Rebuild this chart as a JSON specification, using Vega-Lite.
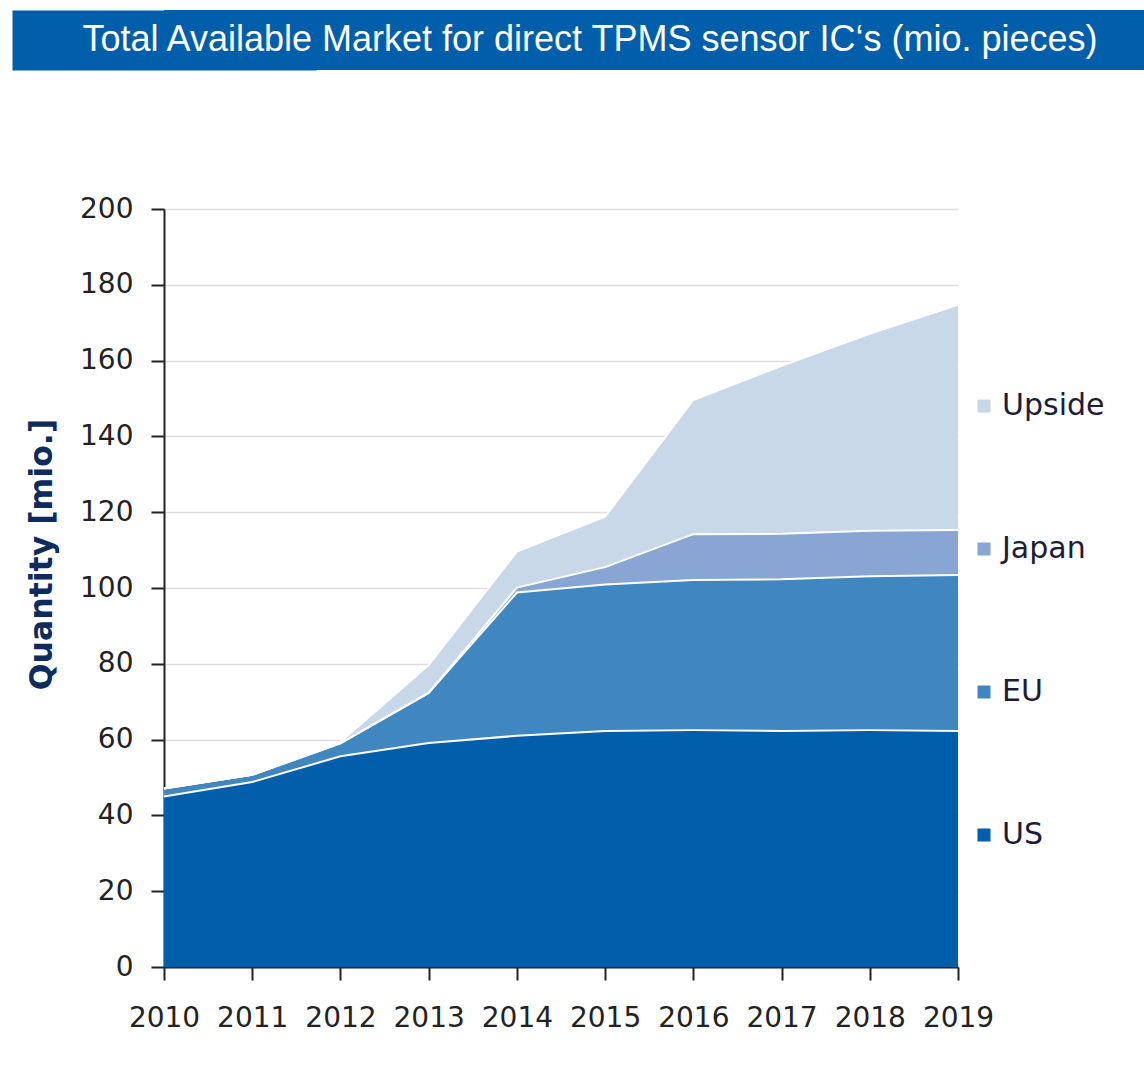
{
  "$schema": "https://vega.github.io/schema/vega-lite/v6.json",
  "padding": {"left": 12, "top": 10, "right": 0, "bottom": 0},
  "background": "white",
  "config": {"view": {"stroke": null}, "font": "DejaVu Sans"},
  "spacing": 125,
  "vconcat": [
    {
      "width": 980,
      "height": 60,
      "view": {"fill": "#005EAA", "stroke": null},
      "data": {"values": [{"t": "Total Available Market for direct TPMS sensor IC‘s (mio. pieces)", "k": "bar"}]},
      "mark": {"type": "text", "font": "Liberation Sans", "fontSize": 36, "color": "white", "dx": -64, "baseline": "middle", "align": "center"},
      "encoding": {
        "text": {"field": "t", "type": "nominal"},
        "y": {
          "field": "k", "type": "nominal",
          "scale": {"type": "point", "padding": 0.5},
          "axis": {"title": null, "labels": false, "ticks": false, "grid": false, "domain": true, "domainColor": "#005EAA", "domainWidth": 304, "domainCap": "butt", "minExtent": 152}
        }
      }
    },
    {
      "width": 794,
      "height": 758,
      "data": {
        "values": [
          {"year": 2010, "series": "US", "rank": 1, "value": 45.0},
          {"year": 2010, "series": "EU", "rank": 2, "value": 2.1},
          {"year": 2010, "series": "Japan", "rank": 3, "value": 0},
          {"year": 2010, "series": "Upside", "rank": 4, "value": 0},
          {"year": 2011, "series": "US", "rank": 1, "value": 48.8},
          {"year": 2011, "series": "EU", "rank": 2, "value": 1.9},
          {"year": 2011, "series": "Japan", "rank": 3, "value": 0},
          {"year": 2011, "series": "Upside", "rank": 4, "value": 0},
          {"year": 2012, "series": "US", "rank": 1, "value": 55.6},
          {"year": 2012, "series": "EU", "rank": 2, "value": 3.4},
          {"year": 2012, "series": "Japan", "rank": 3, "value": 0},
          {"year": 2012, "series": "Upside", "rank": 4, "value": 0.4},
          {"year": 2013, "series": "US", "rank": 1, "value": 59.1},
          {"year": 2013, "series": "EU", "rank": 2, "value": 13.2},
          {"year": 2013, "series": "Japan", "rank": 3, "value": 0},
          {"year": 2013, "series": "Upside", "rank": 4, "value": 7.4},
          {"year": 2014, "series": "US", "rank": 1, "value": 61.0},
          {"year": 2014, "series": "EU", "rank": 2, "value": 37.8},
          {"year": 2014, "series": "Japan", "rank": 3, "value": 1.3},
          {"year": 2014, "series": "Upside", "rank": 4, "value": 9.5},
          {"year": 2015, "series": "US", "rank": 1, "value": 62.3},
          {"year": 2015, "series": "EU", "rank": 2, "value": 38.6},
          {"year": 2015, "series": "Japan", "rank": 3, "value": 4.6},
          {"year": 2015, "series": "Upside", "rank": 4, "value": 13.3},
          {"year": 2016, "series": "US", "rank": 1, "value": 62.5},
          {"year": 2016, "series": "EU", "rank": 2, "value": 39.6},
          {"year": 2016, "series": "Japan", "rank": 3, "value": 12.1},
          {"year": 2016, "series": "Upside", "rank": 4, "value": 35.4},
          {"year": 2017, "series": "US", "rank": 1, "value": 62.3},
          {"year": 2017, "series": "EU", "rank": 2, "value": 40.0},
          {"year": 2017, "series": "Japan", "rank": 3, "value": 12.0},
          {"year": 2017, "series": "Upside", "rank": 4, "value": 44.3},
          {"year": 2018, "series": "US", "rank": 1, "value": 62.5},
          {"year": 2018, "series": "EU", "rank": 2, "value": 40.6},
          {"year": 2018, "series": "Japan", "rank": 3, "value": 12.0},
          {"year": 2018, "series": "Upside", "rank": 4, "value": 52.0},
          {"year": 2019, "series": "US", "rank": 1, "value": 62.3},
          {"year": 2019, "series": "EU", "rank": 2, "value": 41.1},
          {"year": 2019, "series": "Japan", "rank": 3, "value": 11.9},
          {"year": 2019, "series": "Upside", "rank": 4, "value": 59.4}
        ]
      },
      "transform": [
        {"stack": "value", "groupby": ["year"], "sort": [{"field": "rank", "order": "ascending"}], "as": ["y0", "y1"]}
      ],
      "layer": [
        {
          "mark": {"type": "area", "opacity": 1},
          "encoding": {
            "x": {
              "field": "year", "type": "ordinal",
              "scale": {"type": "point", "padding": 0},
              "title": null,
              "axis": {
                "labelAngle": 0, "labelFont": "DejaVu Sans", "labelFontSize": 28, "labelColor": "#222222",
                "labelPadding": 24, "tickSize": 13, "tickWidth": 2, "tickColor": "#222222",
                "domainColor": "#222222", "domainWidth": 2, "grid": false
              }
            },
            "y": {
              "field": "y1", "type": "quantitative",
              "scale": {"domain": [0, 200], "nice": false},
              "title": "Quantity [mio.]",
              "axis": {
                "values": [0, 20, 40, 60, 80, 100, 120, 140, 160, 180, 200],
                "labelFont": "DejaVu Sans", "labelFontSize": 28, "labelColor": "#222222",
                "labelPadding": 18, "tickSize": 13, "tickWidth": 2, "tickColor": "#222222",
                "domainColor": "#222222", "domainWidth": 2,
                "grid": true, "gridColor": "#dddddd", "gridWidth": 1.5,
                "titleFont": "DejaVu Sans", "titleFontSize": 31.5, "titleFontWeight": "bold",
                "titleColor": "#0d2b5c", "titlePadding": 21, "titleY": 345
              }
            },
            "y2": {"field": "y0"},
            "color": {
              "field": "series", "type": "nominal",
              "scale": {"domain": ["Upside", "Japan", "EU", "US"], "range": ["#C8D8E8", "#88A5D3", "#4087C1", "#005EAA"]},
              "legend": {
                "title": null, "orient": "none", "legendX": 805, "legendY": 381,
                "symbolType": "square", "symbolSize": 169, "symbolStrokeWidth": 0,
                "labelFont": "DejaVu Sans", "labelFontSize": 30, "labelColor": "#1c1c3a",
                "labelOffset": 3, "rowPadding": 113, "padding": 0
              }
            }
          }
        },
        {
          "mark": {"type": "line", "color": "white", "strokeWidth": 2},
          "encoding": {
            "x": {"field": "year", "type": "ordinal"},
            "y": {"field": "y1", "type": "quantitative"},
            "detail": {"field": "series", "type": "nominal"}
          }
        }
      ]
    }
  ]
}
